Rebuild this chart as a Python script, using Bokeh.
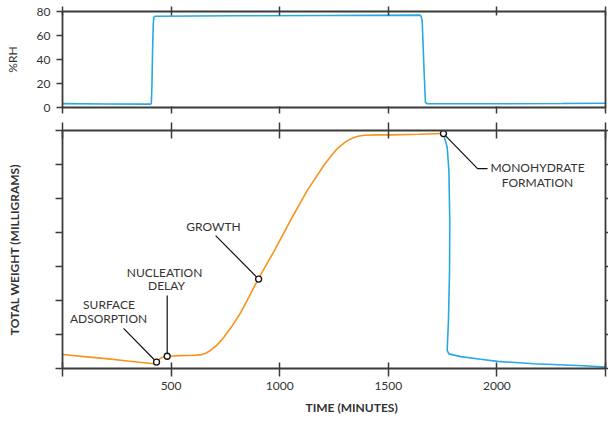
from bokeh.plotting import figure
from bokeh.models import Range1d, LinearAxis, FixedTicker, Title
from bokeh.layouts import column
from bokeh.embed import file_html
from bokeh.resources import INLINE
from bokeh.core.properties import value

FONT = "Lato"
AXIS = "#3b3b3b"
TXT = "#333333"
ORANGE = "#f7941d"
BLUE = "#27a9e1"

# ---- data ----
x_ticks = [0, 500, 1000, 1500, 2000, 2500]
x_tick_labels = {0: "", 500: "500", 1000: "1000", 1500: "1500", 2000: "2000", 2500: ""}
rh_ticks = [0, 20, 40, 60, 80]
weight_ticks = [0, 1, 2, 3, 4, 5, 6, 7]

rh_time = [0, 200, 405, 409, 412, 415, 418, 421, 428, 800, 1200, 1645, 1650, 1656, 1664, 1671, 1679, 2000, 2300, 2500]
rh_value = [3.2, 2.9, 2.8, 3.6, 20, 50, 70, 75.3, 76.1, 76.4, 76.7, 77.0, 76.5, 72.5, 33.6, 4.4, 3.1, 3.1, 3.3, 3.6]

weight_time = [0, 100, 200, 300, 420, 428, 436, 450, 470, 484, 540, 600, 635, 660, 681, 710, 743, 780, 820,
               860, 901, 973, 1050, 1127, 1203, 1240, 1260, 1280, 1300, 1320, 1340, 1360, 1390, 1450,
               1510, 1640, 1754]
weight_value = [0.41, 0.35, 0.29, 0.22, 0.14, 0.12, 0.20, 0.30, 0.35, 0.36, 0.38, 0.39, 0.40, 0.45, 0.53,
                0.68, 0.92, 1.24, 1.64, 2.12, 2.63, 3.44, 4.36, 5.24, 5.97, 6.28, 6.43, 6.55, 6.65, 6.73,
                6.79, 6.83, 6.86, 6.87, 6.87, 6.89, 6.91]

mono_time = [1754, 1756, 1771, 1779, 1783, 1782, 1777, 1771, 1779, 1833, 1925, 2003, 2169, 2399, 2500]
mono_value = [6.91, 6.85, 6.51, 5.82, 4.35, 2.88, 1.41, 0.53, 0.43, 0.35, 0.27, 0.21, 0.14, 0.08, 0.04]

event_time = [433, 482, 903, 1754]
event_weight = [0.19, 0.36, 2.63, 6.91]

label_text = ["SURFACE", "ADSORPTION", "NUCLEATION", "DELAY", "GROWTH", "MONOHYDRATE", "FORMATION"]
label_time = [214, 212, 470, 479, 695, 2187, 2187]
label_weight = [1.88, 1.47, 2.82, 2.44, 4.18, 5.91, 5.47]

leader_time = [[281, 433], [482, 482], [705, 903], [1754, 1911, 1957]]
leader_weight = [[1.18, 0.19], [2.15, 0.36], [3.91, 2.63], [6.91, 5.88, 5.88]]

x_title = "TIME (MINUTES)"


def style(ax, tin, tout, labels=False):
    ax.axis_line_color = AXIS
    ax.axis_line_width = 1.8
    ax.major_tick_line_color = AXIS
    ax.major_tick_line_width = 1.5
    ax.major_tick_in = tin
    ax.major_tick_out = tout
    ax.minor_tick_line_color = None
    ax.minor_tick_in = 0
    ax.minor_tick_out = 0
    ax.major_label_text_font = FONT
    ax.major_label_text_font_size = "12px"
    if labels:
        ax.major_label_text_color = TXT
    else:
        ax.major_label_text_color = None
        ax.major_label_standoff = 0
    ax.axis_label_text_font = FONT
    ax.axis_label_text_color = TXT
    ax.axis_label_text_font_size = "12px"


xr = Range1d(0, 2500)

# ---- top panel: %RH ----
p1 = figure(width=608, height=118, x_range=xr, y_range=Range1d(0, 80),
            output_backend="svg", toolbar_location=None,
            min_border_left=62, min_border_right=3, min_border_top=11, min_border_bottom=11)
p1.outline_line_color = None
p1.grid.visible = False
p1.background_fill_color = "white"
p1.border_fill_color = "white"

bx = p1.xaxis[0]
bx.ticker = FixedTicker(ticks=x_ticks, minor_ticks=[])
style(bx, 1, 6)
ly = p1.yaxis[0]
ly.ticker = FixedTicker(ticks=rh_ticks, minor_ticks=[])
style(ly, 0, 6, labels=True)
ly.major_label_standoff = 6
ly.axis_label = "%RH"
ly.axis_label_text_font_style = "normal"
ly.axis_label_standoff = 14
ax_top = LinearAxis(ticker=FixedTicker(ticks=x_ticks, minor_ticks=[]))
style(ax_top, 4, 5)
p1.add_layout(ax_top, "above")
ax_r = LinearAxis(ticker=FixedTicker(ticks=[], minor_ticks=[]))
style(ax_r, 0, 0)
p1.add_layout(ax_r, "right")

p1.line(rh_time, rh_value, line_color=BLUE, line_width=1.6)

# ---- bottom panel: weight ----
p2 = figure(width=608, height=303, x_range=xr, y_range=Range1d(0, 7),
            output_backend="svg", toolbar_location=None,
            min_border_left=62, min_border_right=3, min_border_top=12, min_border_bottom=53)
p2.outline_line_color = None
p2.grid.visible = False
p2.background_fill_color = "white"
p2.border_fill_color = "white"

bx2 = p2.xaxis[0]
bx2.ticker = FixedTicker(ticks=x_ticks, minor_ticks=[])
style(bx2, 6, 8, labels=True)
bx2.major_label_overrides = x_tick_labels
bx2.major_label_standoff = 5

ly2 = p2.yaxis[0]
ly2.ticker = FixedTicker(ticks=weight_ticks, minor_ticks=[])
style(ly2, 0, 7)
ly2.axis_label = "TOTAL WEIGHT (MILLIGRAMS)"
ly2.axis_label_text_font_style = "bold"
ly2.axis_label_standoff = 34

ax_top2 = LinearAxis(ticker=FixedTicker(ticks=x_ticks, minor_ticks=[]))
style(ax_top2, 8, 8)
p2.add_layout(ax_top2, "above")
ax_r2 = LinearAxis(ticker=FixedTicker(ticks=weight_ticks, minor_ticks=[]))
style(ax_r2, 0, 3)
p2.add_layout(ax_r2, "right")

p2.line(weight_time, weight_value, line_color=ORANGE, line_width=1.6)
p2.line(mono_time, mono_value, line_color=BLUE, line_width=1.6)
p2.multi_line(leader_time, leader_weight, line_color="#111111", line_width=1.2)
p2.scatter(event_time, event_weight, marker="circle", size=6, fill_color="white",
           line_color="#111111", line_width=1.3)
p2.text(label_time, label_weight, text=label_text, text_font=value(FONT),
        text_font_size=value("12px"), text_color=TXT, text_align="center",
        text_baseline="middle")

xt = Title(text=x_title, align="left", offset=243, standoff=10,
           text_font=FONT, text_font_size="12px", text_font_style="bold", text_color=TXT)
p2.add_layout(xt, "below")

layout = column(p1, p2, spacing=0)
open("out.html", "w").write(file_html(layout, INLINE))
